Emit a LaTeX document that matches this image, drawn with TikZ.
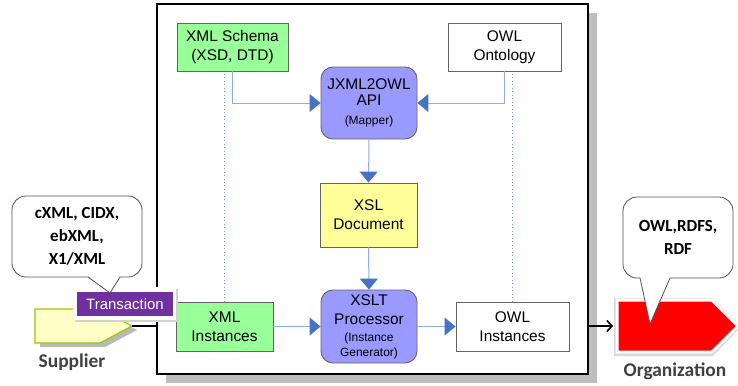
\documentclass[tikz,border=0pt]{standalone}
\usepackage{fontspec}
\setmainfont{Liberation Sans}
\newfontfamily\calfont{Carlito}
\usetikzlibrary{arrows.meta}

\definecolor{boxgreen}{RGB}{153,255,153}
\definecolor{boxyellow}{RGB}{255,255,153}
\definecolor{procblue}{RGB}{153,153,255}
\definecolor{boxline}{RGB}{100,100,100}
\definecolor{flowline}{RGB}{140,175,225}
\definecolor{flowhead}{RGB}{70,115,195}
\definecolor{guideblue}{RGB}{110,150,220}
\definecolor{shadowgray}{RGB}{190,190,190}
\definecolor{transpurple}{RGB}{112,48,160}
\definecolor{supfill}{RGB}{255,255,200}
\definecolor{supline}{RGB}{150,200,0}
\definecolor{bubbleline}{RGB}{80,80,80}
\definecolor{labelgray}{RGB}{64,64,64}

\newcommand\boxfont{\fontsize{15.5}{19}\selectfont}
\newcommand\subfont{\fontsize{12}{15}\selectfont}
\newcommand\bubblefont{\calfont\bfseries\fontsize{17}{23}\selectfont}
\newcommand\actorfont{\calfont\bfseries\fontsize{19.5}{23}\selectfont}

\tikzset{
  box/.style={draw=boxline, line width=0.9pt, inner sep=0pt, align=center,
    font=\boxfont, text=black},
  rbox/.style={box, rounded corners=12pt, fill=procblue,
    minimum width=96bp},
  flow/.style={draw=flowline, line width=1pt,
    -{Triangle[length=11pt,width=18pt,color=flowhead]}},
  guide/.style={draw=guideblue, line width=1.1pt, dash pattern=on 1pt off 2.5pt},
  bubble/.style={draw=bubbleline, line width=0.8pt, fill=white,
    rounded corners=14pt, inner sep=0pt, font=\bubblefont, align=center},
  actor/.style={font=\actorfont, text=labelgray, inner sep=0pt},
}

\begin{document}
\begin{tikzpicture}[x=1bp,y=-1bp]
\useasboundingbox (0,0) rectangle (738,385);

% main frame with its drop shadow
\fill[shadowgray] (166,13) rectangle (597,383);
\draw[black, line width=1.5pt, fill=white] (157,4) rectangle (588,374);
\coordinate (frameW) at (157,326);
\coordinate (frameE) at (588,326);

% boxes inside the frame
\node[box, fill=boxgreen, minimum width=111bp, minimum height=48bp]
  (schema) at (232.5,47) {XML Schema\\(XSD, DTD)};
\node[box, fill=white, minimum width=113bp, minimum height=48bp]
  (owlont) at (504.5,47) {OWL\\Ontology};
\node[rbox, minimum height=72bp] (mapper) at (369,103)
  {JXML2OWL\\[-3pt]API\\{\subfont (Mapper)}};
\node[box, fill=boxyellow, minimum width=97bp, minimum height=64bp]
  (xsl) at (368.5,215) {XSL\\Document};
\node[rbox, minimum height=73bp] (xslt) at (369,326.5)
  {XSLT\\Processor\\[-2pt]{\subfont (Instance}\\[-4pt]{\subfont Generator)}};
\node[box, fill=boxgreen, minimum width=97bp, minimum height=49bp]
  (xmlinst) at (224.5,326.5) {XML\\Instances};
\node[box, fill=white, minimum width=113bp, minimum height=49bp]
  (owlinst) at (512.5,326.5) {OWL\\Instances};

% dotted guides from the schema level down to the instance level
\draw[guide] (xmlinst.north) -- (xmlinst.north |- schema.south);
\draw[guide] (owlinst.north) -- (owlinst.north |- owlont.south);

% flows
\draw[flow] (schema.south) |- (mapper.west);
\draw[flow] (owlont.south) |- (mapper.east);
\draw[flow] (mapper.south) -- (xsl.north);
\draw[flow] (xsl.south) -- (xslt.north);
\draw[flow] (xmlinst.east) -- (xslt.west |- xmlinst.east);
\draw[flow] (xslt.east |- owlinst.west) -- (owlinst.west);

% supplier side
\fill[gray!55] (40,313) -- (105,313) -- (137,330) -- (105,347) -- (40,347) -- cycle;
\draw[fill=supfill, draw=supline, line width=1.2pt]
  (35,309) -- (100,309) -- (132,326) -- (100,343) -- (35,343) -- cycle;
\coordinate (suptip) at (132,326);
\draw[black, line width=2pt] (suptip) -- (frameW);
\node[actor] (supplier) at (72,362) {Supplier};

% transaction tag
\fill[gray!35] (75,289) rectangle (178,322);
\fill[white] (73,287) rectangle (176,320);
\node[fill=transpurple, minimum width=96bp, minimum height=24bp, inner sep=0pt,
  text=white, font=\fontsize{15}{18}\selectfont] (trans) at (125,304) {Transaction};

% left speech bubble
\node[bubble, minimum width=130bp, minimum height=81bp] (formats) at (77,236.5)
  {cXML, CIDX,\\ebXML,\\X1/XML};
\coordinate (formatsTip) at (110,293);
\fill[white] (88,276) -- (formatsTip) -- (120,276) -- cycle;
\draw[bubbleline, line width=0.8pt] (88,277) -- (formatsTip) -- (120,277);

% organization side
\coordinate (orgW) at (613,326);
\fill[gray!30] (614,298) -- (713,298) -- (741,327) -- (713,356) -- (614,356) -- cycle;
\draw[fill=red, draw=white, line width=3pt]
  (617,300) -- (712,300) -- (738,326) -- (712,352) -- (617,352) -- cycle;
\draw[black, line width=1.6pt, -{Straight Barb[length=5pt,width=11pt]}] (frameE) -- (orgW);
\node[actor] (org) at (675,371) {Organization};

% right speech bubble
\node[bubble, minimum width=110bp, minimum height=81bp] (langs) at (678,237.5)
  {OWL,RDFS,\\RDF};
\coordinate (langsTip) at (650,324);
\fill[white] (640,277) -- (langsTip) -- (670,277) -- cycle;
\draw[bubbleline, line width=0.8pt] (640,278) -- (langsTip) -- (670,278);
\end{tikzpicture}
\end{document}
